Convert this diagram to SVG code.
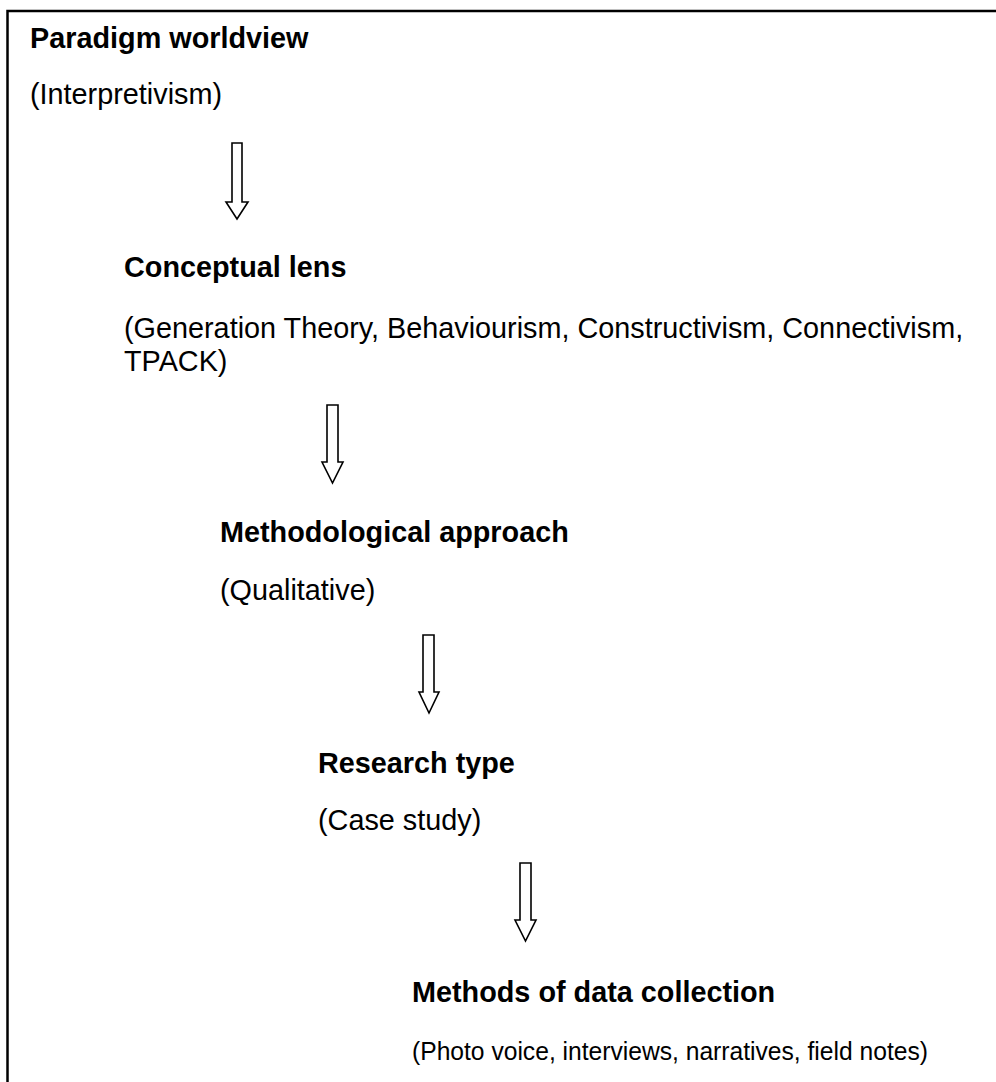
<svg xmlns="http://www.w3.org/2000/svg" width="996" height="1082" viewBox="0 0 996 1082">
<style>
.h{font-family:"Liberation Sans",Arial,sans-serif;font-size:28.8px;font-weight:bold;fill:#000}
.t{font-family:"Liberation Sans",Arial,sans-serif;font-size:28.8px;fill:#000}
.s{font-size:26.5px}
.arrow{fill:#fff;stroke:#000;stroke-width:1.6;stroke-linejoin:miter}
</style>
<rect width="996" height="1082" fill="#fff"/>
<g id="frame">
<path d="M7.5 1082 V11 H996" fill="none" stroke="#000" stroke-width="2.5"/>
</g>
<g id="paradigm">
<text class="h" x="30" y="48">Paradigm worldview</text>
<text class="t" x="30" y="104">(Interpretivism)</text>
</g>
<g id="conceptual">
<text class="h" x="124" y="277">Conceptual lens</text>
<text class="t" x="124" y="338">(Generation Theory, Behaviourism, Constructivism, Connectivism,</text>
<text class="t" x="124" y="371">TPACK)</text>
</g>
<g id="methodological">
<text class="h" x="220" y="542">Methodological approach</text>
<text class="t" x="220" y="600">(Qualitative)</text>
</g>
<g id="research">
<text class="h" x="318" y="773">Research type</text>
<text class="t" x="318" y="830">(Case study)</text>
</g>
<g id="methods">
<text class="h" x="412" y="1002">Methods of data collection</text>
<text class="t s" x="412" y="1060" textLength="516" lengthAdjust="spacingAndGlyphs">(Photo voice, interviews, narratives, field notes)</text>
</g>
<g id="connectors">
<path class="arrow" d="M232 143 H242 V202 H248 L237 219 L226 202 H232 Z"/>
<path class="arrow" d="M327 405 H338 V462 H343 L332.5 483 L322 462 H327 Z"/>
<path class="arrow" d="M423 635 H434 V692 H439 L429 713 L419 692 H423 Z"/>
<path class="arrow" d="M520 863 H531 V920 H536 L525.5 941 L515 920 H520 Z"/>
</g>
</svg>
